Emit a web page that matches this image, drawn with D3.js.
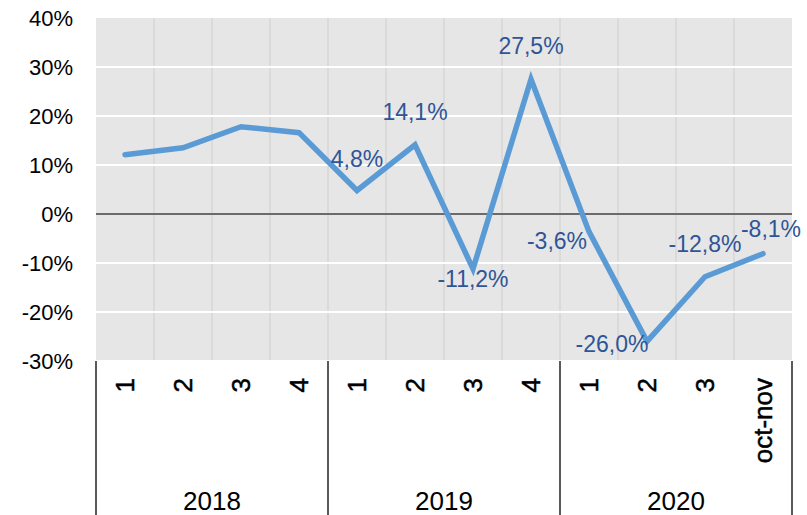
<!DOCTYPE html>
<html>
<head>
<meta charset="utf-8">
<script src="https://cdn.jsdelivr.net/npm/d3@7"></script>
<style>
  body { margin: 0; background: #fff; }
  svg { display: block; font-family: "Liberation Sans", Arial, sans-serif; }
</style>
</head>
<body>
<svg width="807" height="515"></svg>
<script>
// data
var years = ["2018", "2019", "2020"];
var periods = ["1", "2", "3", "4", "1", "2", "3", "4", "1", "2", "3", "oct-nov"];
var periodYear = ["2018", "2018", "2018", "2018", "2019", "2019", "2019", "2019", "2020", "2020", "2020", "2020"];
var growth = [12.1, 13.5, 17.8, 16.6, 4.8, 14.1, -11.2, 27.5, -3.6, -26.0, -12.8, -8.1];
var showLabel = [false, false, false, false, true, true, true, true, true, true, true, true];
var yTicks = [-30, -20, -10, 0, 10, 20, 30, 40];

// label nudges, px (dx, dy of label centre from point)
var labelNudge = [[0,0],[0,0],[0,0],[0,0],[0,-31],[0,-33],[0,10],[0,-33],[-32,9],[-35,3],[0,-33],[8,-25]];

var svg = d3.select("svg");
var margin = {top: 18, right: 15, bottom: 154, left: 96};
var width = 807 - margin.left - margin.right,
    height = 515 - margin.top - margin.bottom;

var x = d3.scaleBand().domain(d3.range(periods.length)).range([0, width]);
var y = d3.scaleLinear().domain([-30, 40]).range([height, 0]);

var g = svg.append("g").attr("transform", "translate(" + margin.left + "," + margin.top + ")");

// plot background
g.append("rect")
    .attr("width", width)
    .attr("height", height)
    .attr("fill", "#e6e6e6");

// vertical grid
g.selectAll(".vgrid")
    .data(d3.range(1, periods.length))
    .enter().append("line")
    .attr("class", "vgrid")
    .attr("x1", function(d) { return x(d); })
    .attr("x2", function(d) { return x(d); })
    .attr("y1", 0)
    .attr("y2", height)
    .attr("stroke", "#d6d6d6")
    .attr("stroke-width", 1.5);

// horizontal grid
g.selectAll(".hgrid")
    .data(yTicks.filter(function(d) { return d !== 0 && d !== 40; }))
    .enter().append("line")
    .attr("class", "hgrid")
    .attr("x1", 0)
    .attr("x2", width)
    .attr("y1", function(d) { return y(d); })
    .attr("y2", function(d) { return y(d); })
    .attr("stroke", "#fff")
    .attr("stroke-width", 2);

// zero line
g.append("line")
    .attr("x1", 0).attr("x2", width)
    .attr("y1", y(0)).attr("y2", y(0))
    .attr("stroke", "#6b6b6b")
    .attr("stroke-width", 2);

// y axis
var yAxis = g.append("g")
    .call(d3.axisLeft(y).tickValues(yTicks).tickSize(0).tickPadding(23)
        .tickFormat(function(d) { return d + "%"; }));
yAxis.select(".domain").remove();
yAxis.selectAll("text")
    .attr("font-size", 22)
    .attr("font-family", "Liberation Sans, Arial, sans-serif")
    .attr("fill", "#000");

// line
var line = d3.line()
    .x(function(d, i) { return x(i) + x.bandwidth() / 2; })
    .y(function(d) { return y(d); });

g.append("path")
    .datum(growth)
    .attr("d", line)
    .attr("fill", "none")
    .attr("stroke", "#5b9bd5")
    .attr("stroke-width", 5.5)
    .attr("stroke-linecap", "round")
    .attr("stroke-linejoin", "miter");

// data labels
var fmt = function(d) { return d3.format(".1f")(d).replace(".", ",").replace("−", "-") + "%"; };
var labelled = d3.range(growth.length).filter(function(i) { return showLabel[i]; });
g.selectAll(".dlabel")
    .data(labelled)
    .enter().append("text")
    .attr("class", "dlabel")
    .attr("x", function(i) { return x(i) + x.bandwidth() / 2 + labelNudge[i][0]; })
    .attr("y", function(i) { return y(growth[i]) + labelNudge[i][1]; })
    .attr("text-anchor", "middle")
    .attr("dominant-baseline", "central")
    .attr("font-size", 23)
    .attr("fill", "#2f5597")
    .text(function(i) { return fmt(growth[i]); });

// category labels (rotated)
g.selectAll(".cat")
    .data(periods)
    .enter().append("text")
    .attr("class", "cat")
    .attr("transform", function(d, i) {
        return "translate(" + (x(i) + x.bandwidth() / 2) + "," + (height + 17) + ") rotate(-90)";
    })
    .attr("text-anchor", "end")
    .attr("dominant-baseline", "central")
    .attr("font-size", 26)
    .attr("fill", "#000")
    .attr("stroke", "#000")
    .attr("stroke-width", 0.5)
    .text(function(d) { return d; });

// year group separators and labels
var groups = years.map(function(yr) {
    var idx = d3.range(periods.length).filter(function(i) { return periodYear[i] === yr; });
    return {year: yr, start: x(idx[0]), end: x(idx[idx.length - 1]) + x.bandwidth()};
});

var seps = [0].concat(groups.map(function(d) { return d.end; }));
g.selectAll(".sep")
    .data(seps)
    .enter().append("line")
    .attr("class", "sep")
    .attr("x1", function(d) { return d; })
    .attr("x2", function(d) { return d; })
    .attr("y1", height)
    .attr("y2", height + margin.bottom)
    .attr("stroke", "#595959")
    .attr("stroke-width", 2);

g.selectAll(".year")
    .data(groups)
    .enter().append("text")
    .attr("class", "year")
    .attr("x", function(d) { return (d.start + d.end) / 2; })
    .attr("y", height + 149)
    .attr("text-anchor", "middle")
    .attr("font-size", 26)
    .attr("fill", "#000")
    .text(function(d) { return d.year; });
</script>
</body>
</html>
